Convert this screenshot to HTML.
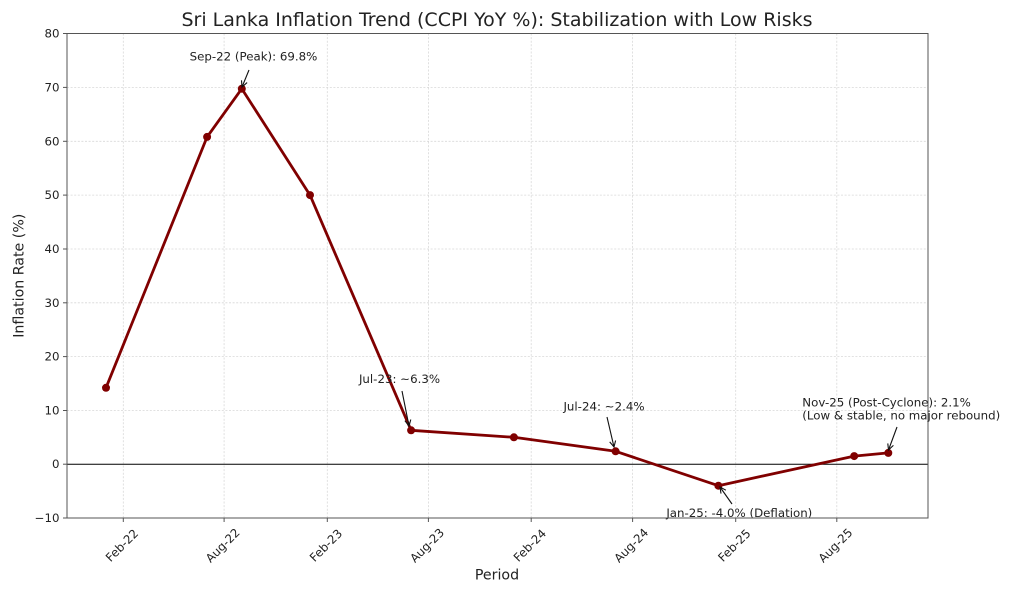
<!DOCTYPE html>
<html>
<head>
<meta charset="utf-8">
<style>
  html, body { margin: 0; padding: 0; background: #ffffff; }
  svg { display: block; }
  text { font-family: "DejaVu Sans", "Liberation Sans", sans-serif; fill: #222; }
</style>
</head>
<body>
<svg width="1024" height="597" viewBox="0 0 1024 597" xmlns="http://www.w3.org/2000/svg">
  <rect x="0" y="0" width="1024" height="597" fill="#ffffff"/>

  <!-- Title -->
  <text x="497" y="20" font-size="19" text-anchor="middle" dominant-baseline="central">Sri Lanka Inflation Trend (CCPI YoY %): Stabilization with Low Risks</text>

  <!-- Grid: horizontal -->
  <g stroke="#d8d8d8" stroke-width="0.8" stroke-dasharray="2,1.6">
    <line x1="67" y1="87.4" x2="928" y2="87.4"/>
    <line x1="67" y1="141.3" x2="928" y2="141.3"/>
    <line x1="67" y1="195.1" x2="928" y2="195.1"/>
    <line x1="67" y1="249.0" x2="928" y2="249.0"/>
    <line x1="67" y1="302.8" x2="928" y2="302.8"/>
    <line x1="67" y1="356.6" x2="928" y2="356.6"/>
    <line x1="67" y1="410.5" x2="928" y2="410.5"/>
    <!-- vertical -->
    <line x1="123.3" y1="33.5" x2="123.3" y2="518"/>
    <line x1="224.1" y1="33.5" x2="224.1" y2="518"/>
    <line x1="327.3" y1="33.5" x2="327.3" y2="518"/>
    <line x1="428.4" y1="33.5" x2="428.4" y2="518"/>
    <line x1="531.2" y1="33.5" x2="531.2" y2="518"/>
    <line x1="632.6" y1="33.5" x2="632.6" y2="518"/>
    <line x1="735.7" y1="33.5" x2="735.7" y2="518"/>
    <line x1="836.8" y1="33.5" x2="836.8" y2="518"/>
  </g>

  <!-- Zero line -->
  <line x1="67" y1="464.2" x2="928" y2="464.2" stroke="#000" stroke-width="1"/>

  <!-- Data line -->
  <polyline fill="none" stroke="#800000" stroke-width="2.8" stroke-linejoin="round"
    points="106,387.8 207.1,136.9 241.8,88.7 310,195.1 411.1,430.3 513.9,437.3 615.6,451.3 718.4,485.7 854.2,456.1 888.3,452.9"/>
  <g fill="#800000">
    <circle cx="106" cy="387.8" r="4"/>
    <circle cx="207.1" cy="136.9" r="4"/>
    <circle cx="241.8" cy="88.7" r="4"/>
    <circle cx="310" cy="195.1" r="4"/>
    <circle cx="411.1" cy="430.3" r="4"/>
    <circle cx="513.9" cy="437.3" r="4"/>
    <circle cx="615.6" cy="451.3" r="4"/>
    <circle cx="718.4" cy="485.7" r="4"/>
    <circle cx="854.2" cy="456.1" r="4"/>
    <circle cx="888.3" cy="452.9" r="4"/>
  </g>

  <!-- Annotations -->
  <g font-size="11.8">
    <text x="253.5" y="56.5" text-anchor="middle" dominant-baseline="central">Sep-22 (Peak): 69.8%</text>
    <text x="399.5" y="379" text-anchor="middle" dominant-baseline="central">Jul-23: ~6.3%</text>
    <text x="604" y="406.7" text-anchor="middle" dominant-baseline="central">Jul-24: ~2.4%</text>
    <text x="739.3" y="513" text-anchor="middle" dominant-baseline="central">Jan-25: -4.0% (Deflation)</text>
    <text x="802.3" y="402.7" text-anchor="start" dominant-baseline="central">Nov-25 (Post-Cyclone): 2.1%</text>
    <text x="802.3" y="415.7" text-anchor="start" dominant-baseline="central">(Low &amp; stable, no major rebound)</text>
  </g>
  <g stroke="#111" stroke-width="1.1" fill="none">
    <line x1="249" y1="70" x2="242" y2="87"/>
    <polyline points="247.1,82.6 242,87 241.5,80.3"/>
    <line x1="402" y1="391" x2="409" y2="426"/>
    <polyline points="410.8,419.5 409,426 404.9,420.7"/>
    <line x1="607" y1="417" x2="614" y2="447"/>
    <polyline points="615.6,440.5 614,447 609.7,441.9"/>
    <line x1="732" y1="504" x2="720" y2="487"/>
    <polyline points="725.9,490.2 720,487 721,493.6"/>
    <line x1="897" y1="427" x2="888.5" y2="450"/>
    <polyline points="893.4,445.4 888.5,450 887.8,443.4"/>
  </g>

  <!-- Spines -->
  <rect x="67" y="33.5" width="861" height="484.5" fill="none" stroke="#555" stroke-width="1"/>

  <!-- Y ticks -->
  <g stroke="#555" stroke-width="1">
    <line x1="63" y1="33.5" x2="67" y2="33.5"/>
    <line x1="63" y1="87.4" x2="67" y2="87.4"/>
    <line x1="63" y1="141.3" x2="67" y2="141.3"/>
    <line x1="63" y1="195.1" x2="67" y2="195.1"/>
    <line x1="63" y1="249.0" x2="67" y2="249.0"/>
    <line x1="63" y1="302.8" x2="67" y2="302.8"/>
    <line x1="63" y1="356.6" x2="67" y2="356.6"/>
    <line x1="63" y1="410.5" x2="67" y2="410.5"/>
    <line x1="63" y1="464.2" x2="67" y2="464.2"/>
    <line x1="63" y1="518" x2="67" y2="518"/>
    <!-- X ticks -->
    <line x1="123.3" y1="518" x2="123.3" y2="522"/>
    <line x1="224.1" y1="518" x2="224.1" y2="522"/>
    <line x1="327.3" y1="518" x2="327.3" y2="522"/>
    <line x1="428.4" y1="518" x2="428.4" y2="522"/>
    <line x1="531.2" y1="518" x2="531.2" y2="522"/>
    <line x1="632.6" y1="518" x2="632.6" y2="522"/>
    <line x1="735.7" y1="518" x2="735.7" y2="522"/>
    <line x1="836.8" y1="518" x2="836.8" y2="522"/>
  </g>

  <g font-size="11.8" text-anchor="end" dominant-baseline="central">
    <text x="59.5" y="33.5">80</text>
    <text x="59.5" y="87.4">70</text>
    <text x="59.5" y="141.3">60</text>
    <text x="59.5" y="195.1">50</text>
    <text x="59.5" y="249.0">40</text>
    <text x="59.5" y="302.8">30</text>
    <text x="59.5" y="356.6">20</text>
    <text x="59.5" y="410.5">10</text>
    <text x="59.5" y="464.2">0</text>
    <text x="59.5" y="518">−10</text>
  </g>

  <g font-size="11.8" text-anchor="middle" dominant-baseline="central">
    <text x="122" y="545.5" transform="rotate(-45 122 545.5)">Feb-22</text>
    <text x="222.8" y="545.5" transform="rotate(-45 222.8 545.5)">Aug-22</text>
    <text x="326" y="545.5" transform="rotate(-45 326 545.5)">Feb-23</text>
    <text x="427.1" y="545.5" transform="rotate(-45 427.1 545.5)">Aug-23</text>
    <text x="529.9" y="545.5" transform="rotate(-45 529.9 545.5)">Feb-24</text>
    <text x="631.3" y="545.5" transform="rotate(-45 631.3 545.5)">Aug-24</text>
    <text x="734.4" y="545.5" transform="rotate(-45 734.4 545.5)">Feb-25</text>
    <text x="835.5" y="545.5" transform="rotate(-45 835.5 545.5)">Aug-25</text>
  </g>

  <!-- Axis labels -->
  <text x="497" y="575.5" font-size="14.2" text-anchor="middle" dominant-baseline="central">Period</text>
  <text x="19.5" y="275.7" font-size="14.2" text-anchor="middle" dominant-baseline="central" transform="rotate(-90 19.5 275.7)">Inflation Rate (%)</text>
</svg>
</body>
</html>
